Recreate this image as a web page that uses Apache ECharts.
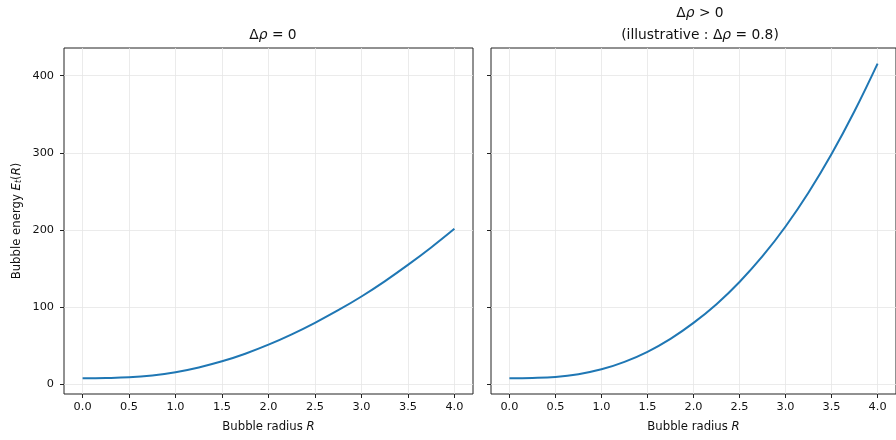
<!DOCTYPE html>
<html>
<head>
<meta charset="utf-8">
<script src="https://cdn.jsdelivr.net/npm/echarts@6/dist/echarts.min.js"></script>
<style>
  html, body { margin: 0; padding: 0; background: #fff; }
  #chart { width: 896px; height: 440px; }
</style>
</head>
<body>
<div id="chart"></div>
<script>
// bubble radius R
var radius = [0, 0.25, 0.5, 0.75, 1.0, 1.25, 1.5, 1.75, 2.0, 2.25, 2.5, 2.75, 3.0, 3.25, 3.5, 3.75, 4.0];
// E_t(R) for delta rho = 0
var energyFlat = [7.4, 7.7, 8.6, 11.1, 15.3, 21.5, 29.4, 39.3, 51, 64.4, 79.4, 95.7, 113.5, 133.2, 154.5, 177.2, 201.4];
// E_t(R) for delta rho = 0.8
var energyPos = [7.4, 7.8, 9.1, 12.7, 19, 28.7, 41.8, 58.6, 79.3, 103.6, 132.4, 165.8, 204.4, 248.5, 298.4, 354.2, 415.7];
var xTicks = [0, 0.5, 1, 1.5, 2, 2.5, 3, 3.5, 4];
var yTicks = [0, 100, 200, 300, 400];

var FONT = 'DejaVu Sans';
var ink = '#111';
var frame = '#222';
var TICK_FS = 11.3;
var LABEL_FS = 11.7;
var TITLE_FS = 13.8;

function pairs(xs, ys) {
  var out = [];
  for (var i = 0; i < xs.length; i++) out.push([xs[i], ys[i]]);
  return out;
}

function xAxisFor(idx) {
  return {
    type: 'value', gridIndex: idx, min: -0.2, max: 4.2,
    name: '{n|Bubble radius }{i|R}', nameLocation: 'middle', nameGap: 27,
    nameTextStyle: { rich: {
      n: { fontFamily: FONT, fontSize: LABEL_FS, color: ink },
      i: { fontFamily: FONT, fontSize: LABEL_FS, color: ink, fontStyle: 'italic' }
    } },
    axisLine: { show: false, onZero: false },
    axisTick: { show: true, inside: false, length: 4, customValues: xTicks, lineStyle: { color: frame } },
    axisLabel: { show: true, customValues: xTicks, margin: 8, fontFamily: FONT, fontSize: TICK_FS, color: ink,
      formatter: function (v) { return v.toFixed(1); } },
    splitLine: { show: true, customValues: xTicks, lineStyle: { color: '#e6e6e6', width: 0.8 } }
  };
}

function yAxisFor(idx, withLabels) {
  var ax = {
    type: 'value', gridIndex: idx, min: -13, max: 436,
    axisLine: { show: false, onZero: false },
    axisTick: { show: true, inside: false, length: 4, customValues: yTicks, lineStyle: { color: frame } },
    axisLabel: { show: withLabels, customValues: yTicks, margin: 10, fontFamily: FONT, fontSize: TICK_FS, color: ink },
    splitLine: { show: true, customValues: yTicks, lineStyle: { color: '#e6e6e6', width: 0.8 } }
  };
  if (withLabels) {
    ax.name = '{n|Bubble energy }{i|E}{s|t}{n|(}{i|R}{n|)}';
    ax.nameLocation = 'middle';
    ax.nameGap = 41;
    ax.nameTextStyle = { rich: {
      n: { fontFamily: FONT, fontSize: LABEL_FS, color: ink },
      i: { fontFamily: FONT, fontSize: LABEL_FS, color: ink, fontStyle: 'italic' },
      s: { fontFamily: FONT, fontSize: 8, color: ink, fontStyle: 'italic', verticalAlign: 'bottom', padding: [5, 0, 0, 0] }
    } };
  }
  return ax;
}

var titleRich = {
  n: { fontFamily: FONT, fontSize: TITLE_FS, fontWeight: 'normal', color: ink },
  i: { fontFamily: FONT, fontSize: TITLE_FS, fontWeight: 'normal', color: ink, fontStyle: 'italic' }
};

var chart = echarts.init(document.getElementById('chart'), null, { renderer: 'canvas' });
chart.setOption({
  backgroundColor: '#fff',
  animation: false,
  title: [
    { text: '{n|Δ}{i|ρ}{n| = 0}', left: 268, top: 23, textAlign: 'center',
      textStyle: { fontWeight: 'normal', rich: titleRich } },
    { text: '{n|Δ}{i|ρ}{n| > 0}', left: 695, top: 1, textAlign: 'center',
      textStyle: { fontWeight: 'normal', rich: titleRich } },
    { text: '{n|(illustrative : Δ}{i|ρ}{n| = 0.8)}', left: 695, top: 23, textAlign: 'center',
      textStyle: { fontWeight: 'normal', rich: titleRich } }
  ],
  grid: [
    { left: 64, top: 48, width: 409, height: 346, show: true, borderColor: frame, borderWidth: 1, backgroundColor: 'transparent' },
    { left: 491, top: 48, width: 409, height: 346, show: true, borderColor: frame, borderWidth: 1, backgroundColor: 'transparent' }
  ],
  xAxis: [xAxisFor(0), xAxisFor(1)],
  yAxis: [yAxisFor(0, true), yAxisFor(1, false)],
  series: [
    { type: 'line', xAxisIndex: 0, yAxisIndex: 0, data: pairs(radius, energyFlat),
      smooth: 0.4, showSymbol: false, lineStyle: { color: '#1f77b4', width: 2 }, itemStyle: { color: '#1f77b4' } },
    { type: 'line', xAxisIndex: 1, yAxisIndex: 1, data: pairs(radius, energyPos),
      smooth: 0.4, showSymbol: false, lineStyle: { color: '#1f77b4', width: 2 }, itemStyle: { color: '#1f77b4' } }
  ]
});
</script>
</body>
</html>
